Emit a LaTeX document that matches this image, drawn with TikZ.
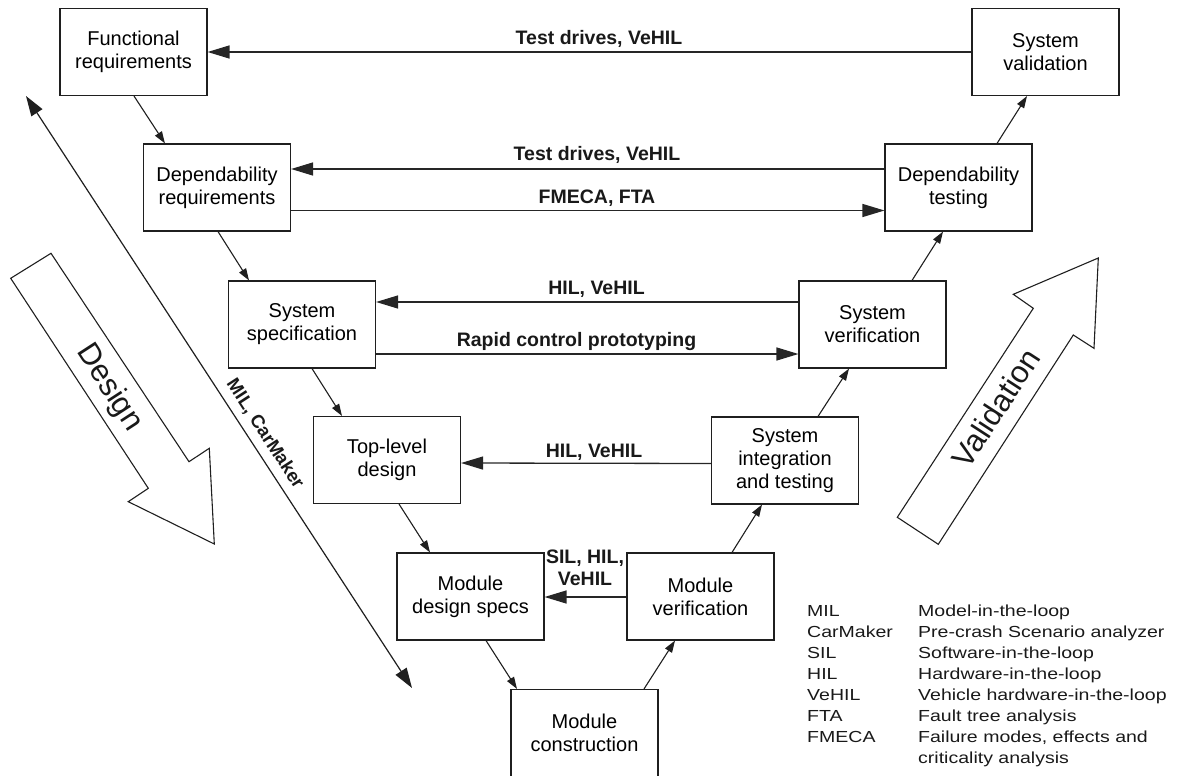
\documentclass[tikz,border=0pt]{standalone}
\usepackage{fontspec}
\setmainfont{Liberation Sans}
\newfontfamily\legendfont[FakeStretch=1.22]{Liberation Sans}
\usetikzlibrary{arrows.meta}
\begin{document}
\begin{tikzpicture}[x=1pt,y=-1pt,
  box/.style={draw=black!88, line width=1.1pt, minimum width=147pt, minimum height=87pt,
    align=center, inner sep=0pt, font=\fontsize{20}{23}\selectfont},
  harrow/.style={draw=black!85, line width=1.3pt, -{Triangle[length=22pt,width=13pt]}},
  darrow/.style={draw=black!88, line width=1.1pt, -{Triangle[length=12pt,width=8pt]}},
  lab/.style={font=\bfseries\fontsize{19.5}{22}\selectfont, inner sep=0pt, anchor=base, text=black!90},
  bigarrow/.style={draw=black!88, line width=1.1pt, line join=miter},
  bigtext/.style={font=\fontsize{31}{36}\selectfont, inner sep=0pt, text=black!90}
]
\useasboundingbox (0,0) rectangle (1179,776);

% boxes
\node[box] (fr)   at (133.5,52)  {Functional\\requirements};
\node[box] (dr)   at (217,187.5) {Dependability\\requirements};
\node[box] (ss)   at (302,324.5) {System\\specification};
\node[box] (tl)   at (387,460)   {Top-level\\design};
\node[box] (md)   at (470.5,596.5) {Module\\design specs};
\node[box] (mc)   at (584.5,733) {Module\\construction};
\node[box] (mv)   at (700.5,596.5) {Module\\verification};
\node[box] (si)   at (785,460.5) {System\\integration\\and testing};
\node[box] (sver) at (872.5,324.5) {System\\verification};
\node[box] (dt)   at (958.5,187.5) {Dependability\\testing};
\node[box] (sval) at (1045.5,52) {System\\validation};

% horizontal arrows
\draw[harrow] (sval.west) -- (fr.east);
\draw[harrow] ([yshift=18.5pt]dt.west) -- ([yshift=18.5pt]dr.east);
\draw[harrow] ([yshift=-23pt]dr.east) -- ([yshift=-23pt]dt.west);
\draw[harrow] ([yshift=22.5pt]sver.west) -- ([yshift=22.5pt]ss.east);
\draw[harrow] ([yshift=-29.5pt]ss.east) -- ([yshift=-29.5pt]sver.west);
\draw[harrow] ([yshift=-3pt]si.west) -- ([yshift=-3pt]tl.east);
\draw[harrow] ([yshift=-0.5pt]mv.west) -- ([yshift=-0.5pt]md.east);

% labels
\node[lab] (l1) at (599,45)  {Test drives, VeHIL};
\node[lab] (l2) at (597,160.5) {Test drives, VeHIL};
\node[lab] (l3) at (597,203) {FMECA, FTA};
\node[lab] (l4) at (596.5,294) {HIL, VeHIL};
\node[lab] (l5) at (576.5,346) {Rapid control prototyping};
\node[lab] (l6) at (594,457) {HIL, VeHIL};
\node[lab] (l7a) at (585,563) {SIL, HIL,};
\node[lab] (l7b) at (585,585) {VeHIL};

% diagonal arrows
\draw[darrow] ([xshift=0.5pt]fr.south) -- ([xshift=-52pt]dr.north);
\draw[darrow] ([xshift=1pt]dr.south) -- ([xshift=-53pt]ss.north);
\draw[darrow] ([xshift=10pt]ss.south) -- ([xshift=-45pt]tl.north);
\draw[darrow] ([xshift=12pt]tl.south) -- ([xshift=-40.5pt]md.north);
\draw[darrow] ([xshift=15.5pt]md.south) -- ([xshift=-67.5pt]mc.north);
\draw[darrow] ([xshift=59.5pt]mc.north) -- ([xshift=-25.5pt]mv.south);
\draw[darrow] ([xshift=31.5pt]mv.north) -- ([xshift=-23pt]si.south);
\draw[darrow] ([xshift=33pt]si.north) -- ([xshift=-23.5pt]sver.south);
\draw[darrow] ([xshift=39.5pt]sver.north) -- ([xshift=-15.5pt]dt.south);
\draw[darrow] ([xshift=38.5pt]dt.north) -- ([xshift=-18.5pt]sval.south);

% MIL, CarMaker double arrow
\coordinate (milA) at (26,96);
\coordinate (milB) at (412,688);
\draw[draw=black!88, line width=1.2pt, {Triangle[length=20pt,width=13pt]}-{Triangle[length=20pt,width=13pt]}] (milA) -- (milB);
\node[font=\bfseries\fontsize{18.5}{20}\selectfont, inner sep=0pt, rotate=-57, text=black!90] (mil) at (265,434) {MIL, CarMaker};

% Design arrow
\draw[bigarrow] (10.7,278.3) -- (51,253.3) -- (189,461.7) -- (209.3,448.3) -- (214.3,544)
  -- (128.3,501.7) -- (148.3,488.3) -- cycle;
\node[bigtext, rotate=-57] (design) at (109,388) {Design};

% Validation arrow
\draw[bigarrow] (897.3,517.3) -- (1033.3,308.3) -- (1013.3,294.3) -- (1098.3,258)
  -- (1094,348.3) -- (1073.3,335) -- (938.3,544.3) -- cycle;
\node[bigtext, rotate=57] (valid) at (996,408) {Validation};

% legend
\node[anchor=base west, inner sep=0pt, text=black!90] (legend) at (807,616) {%
  \legendfont\fontsize{16}{21.1}\selectfont
  \begin{tabular}[t]{@{}p{111pt}@{}l@{}}
  MIL & Model-in-the-loop\\
  CarMaker & Pre-crash Scenario analyzer\\
  SIL & Software-in-the-loop\\
  HIL & Hardware-in-the-loop\\
  VeHIL & Vehicle hardware-in-the-loop\\
  FTA & Fault tree analysis\\
  FMECA & Failure modes, effects and\\
   & criticality analysis
  \end{tabular}};
\end{tikzpicture}
\end{document}
